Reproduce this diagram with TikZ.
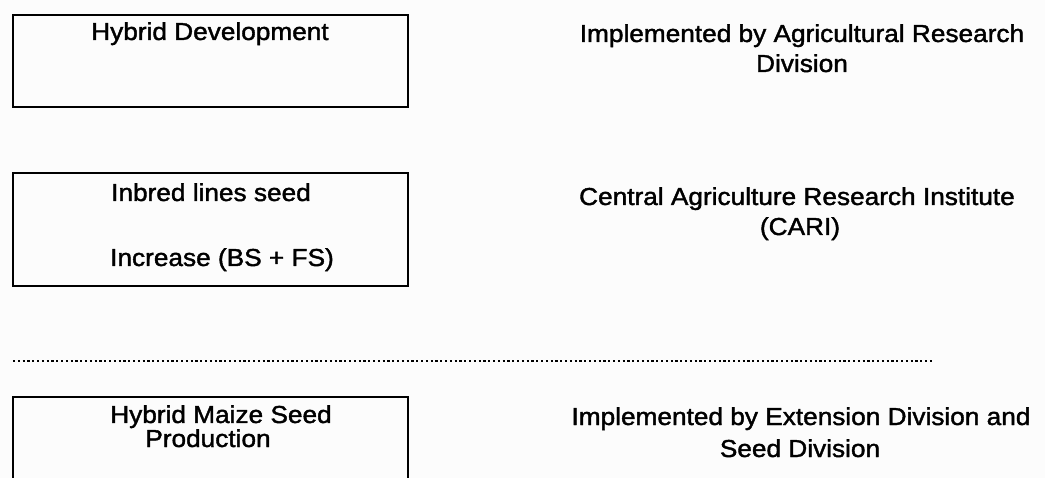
\documentclass[tikz,border=0pt]{standalone}
\usepackage{fontspec}
\setmainfont{Liberation Sans}[FakeStretch=1.07,FakeBold=1.6]
\definecolor{paper}{RGB}{252,252,252}
\begin{document}
\begin{tikzpicture}[x=1pt,y=-1pt,
  txt/.style={anchor=base, inner sep=0pt, font=\fontsize{24.5}{29}\selectfont},
  stagebox/.style={draw, line width=1.8pt, inner sep=0pt, minimum width=395pt},
  divider/.style={line width=2pt, dash pattern=on 2.2pt off 2.6pt},
]
% page
\fill[paper] (0,0) rectangle (1045,478);
\useasboundingbox (0,0) rectangle (1045,478);

% left column: the three stages
\node[stagebox, minimum height=92pt] (hd) at (210.5,61) {};
\node[txt] (hd1) at (210,40) {Hybrid Development};

\node[stagebox, minimum height=113pt] (ib) at (210.5,229.5) {};
\node[txt] (ib1) at (211,201) {Inbred lines seed};
\node[txt] (ib2) at (222,266) {Increase (BS + FS)};

% third stage box runs off the bottom of the page
\node[inner sep=0pt, minimum width=395pt, minimum height=100pt] (hm) at (210.5,447) {};
\draw[line width=1.8pt] (hm.south west) -- (hm.north west) -- (hm.north east) -- (hm.south east);
\node[txt] (hm1) at (221,423) {Hybrid Maize Seed};
\node[txt] (hm2) at (208,447) {Production};

% right column: who implements each stage
\node[txt] (r11) at (802,42) {Implemented by Agricultural Research};
\node[txt] (r12) at (802,72) {Division};

\node[txt] (r21) at (797,205) {Central Agriculture Research Institute};
\node[txt] (r22) at (800,235) {(CARI)};

\node[txt] (r31) at (801,425) {Implemented by Extension Division and};
\node[txt] (r32) at (800,457) {Seed Division};

% dotted separator between research and extension
\coordinate (dl) at (13,361);
\coordinate (dr) at (933,361);
\draw[divider] (dl) -- (dr);
\end{tikzpicture}
\end{document}
